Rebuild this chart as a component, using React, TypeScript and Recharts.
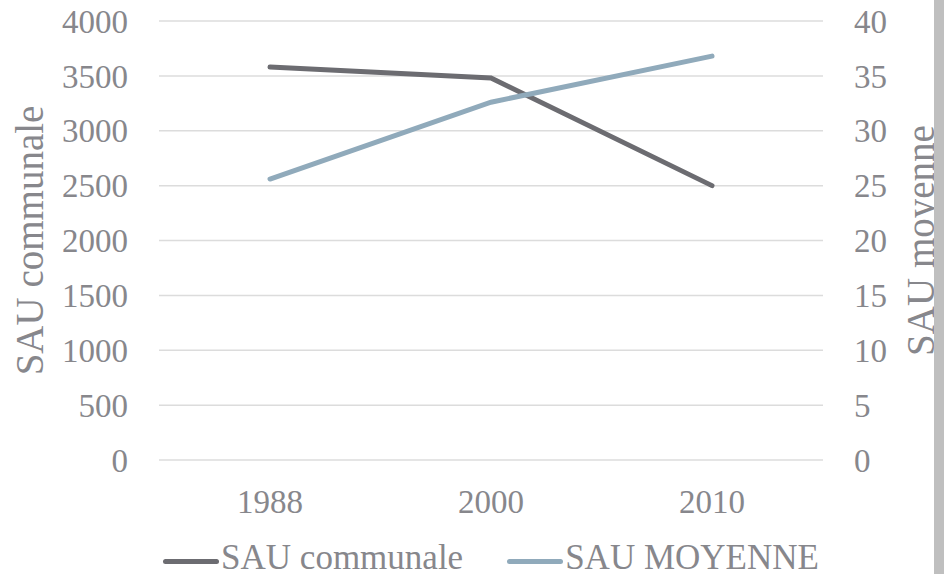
import React from 'react';
import { LineChart, Line, XAxis, YAxis, CartesianGrid, Legend } from 'recharts';

// données
const years = ['1988', '2000', '2010'];
const sauCommunale = [3580, 3480, 2500];
const sauMoyenne = [25.6, 32.6, 36.8];
const leftTicks = [0, 500, 1000, 1500, 2000, 2500, 3000, 3500, 4000];
const rightTicks = [0, 5, 10, 15, 20, 25, 30, 35, 40];

const FONT = '"Liberation Serif", "Times New Roman", serif';
const TEXT = '#87878c';
const DARK = '#6c6c71';
const LIGHT = '#90aabb';

const chartData = years.map((year, i) => ({
  year,
  communale: sauCommunale[i],
  moyenne: sauMoyenne[i],
}));

const legendItems = [
  { label: 'SAU communale', color: DARK },
  { label: 'SAU MOYENNE', color: LIGHT },
];

const LegendContent = () => (
  <div
    style={{
      height: 40,
      boxSizing: 'border-box',
      paddingTop: 7,
      display: 'flex',
      justifyContent: 'center',
      alignItems: 'center',
      gap: 44,
      fontFamily: FONT,
      fontSize: 35,
      lineHeight: '30px',
      color: TEXT,
      whiteSpace: 'nowrap',
    }}
  >
    {legendItems.map(item => (
      <div key={item.label} style={{ display: 'flex', alignItems: 'center' }}>
        <span
          style={{
            display: 'inline-block',
            width: 56,
            height: 5,
            borderRadius: 3,
            background: item.color,
            marginRight: 2,
            marginTop: 7,
          }}
        />
        <span>{item.label}</span>
      </div>
    ))}
  </div>
);

// titre vertical des axes
const axisTitle = (text: string, dx: number) => (props: any) => {
  const vb = props.viewBox;
  const x = vb.x + dx;
  const y = vb.y + vb.height / 2;
  return (
    <text
      x={x}
      y={y}
      transform={`rotate(-90, ${x}, ${y})`}
      textAnchor="middle"
      fill={TEXT}
      fontFamily={FONT}
      fontSize={39}
    >
      {text}
    </text>
  );
};

const App: React.FC = () => {
  const tickStyle = { fill: TEXT, fontFamily: FONT, fontSize: 33 };
  return (
    <div
      style={{
        position: 'absolute',
        left: 0,
        top: 0,
        width: 944,
        height: 574,
        background: '#fff',
        overflow: 'hidden',
      }}
    >
      <LineChart
        width={934}
        height={574}
        data={chartData}
        margin={{ top: 21, right: 0, bottom: 0, left: 0 }}
      >
        <CartesianGrid yAxisId="left" vertical={false} stroke="#dcdcdc" strokeWidth={1.5} />
        <XAxis
          dataKey="year"
          height={74}
          axisLine={false}
          tickLine={false}
          tickSize={0}
          tickMargin={30}
          padding={{ left: 111, right: 111 }}
          tick={tickStyle}
        />
        <YAxis
          yAxisId="left"
          width={159}
          domain={[0, 4000]}
          ticks={leftTicks}
          axisLine={false}
          tickLine={false}
          tickSize={0}
          tickMargin={31}
          tick={tickStyle}
          label={{ content: axisTitle('SAU communale', 43) }}
        />
        <YAxis
          yAxisId="right"
          orientation="right"
          width={111}
          domain={[0, 40]}
          ticks={rightTicks}
          axisLine={false}
          tickLine={false}
          tickSize={0}
          tickMargin={31}
          tick={tickStyle}
          label={{ content: axisTitle('SAU moyenne', 111) }}
        />
        <Legend
          verticalAlign="bottom"
          wrapperStyle={{ left: 159, width: 664 }}
          content={<LegendContent />}
        />
        <Line
          yAxisId="left"
          type="linear"
          dataKey="communale"
          name="SAU communale"
          stroke={DARK}
          strokeWidth={5}
          strokeLinecap="round"
          dot={false}
          activeDot={false}
          isAnimationActive={false}
        />
        <Line
          yAxisId="right"
          type="linear"
          dataKey="moyenne"
          name="SAU MOYENNE"
          stroke={LIGHT}
          strokeWidth={5}
          strokeLinecap="round"
          dot={false}
          activeDot={false}
          isAnimationActive={false}
        />
      </LineChart>
      <div
        style={{
          position: 'absolute',
          left: 934,
          top: 0,
          width: 10,
          height: 574,
          background: '#bfbfbf',
        }}
      />
    </div>
  );
};

export default App;
